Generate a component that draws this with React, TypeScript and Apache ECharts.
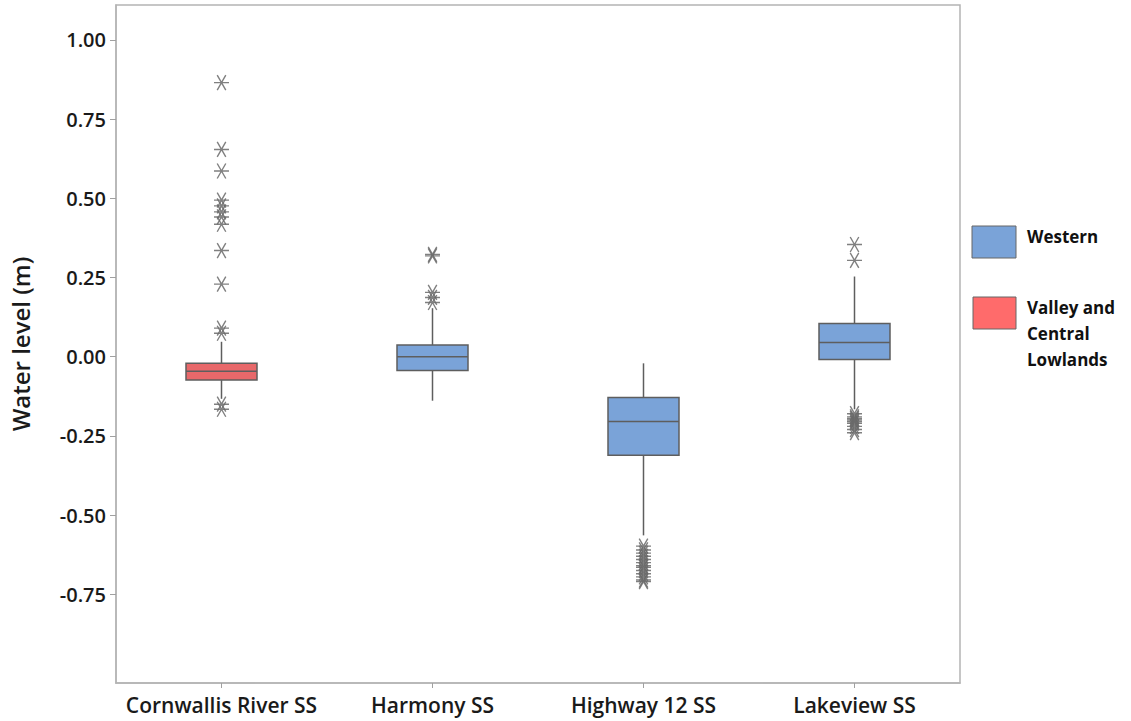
import React, { useEffect, useRef } from "react";
import * as echarts from "echarts";

const categories = ["Cornwallis River SS", "Harmony SS", "Highway 12 SS", "Lakeview SS"];
// [lower whisker, Q1, median, Q3, upper whisker]
const boxValues = [
  [-0.133, -0.074, -0.046, -0.021, 0.047],
  [-0.139, -0.044, 0.0, 0.037, 0.153],
  [-0.564, -0.311, -0.205, -0.129, -0.021],
  [-0.166, -0.009, 0.045, 0.105, 0.253],
];
const boxRegion = ["Valley", "Western", "Western", "Western"];
const outliersCornwallis = [0.865, 0.654, 0.586, 0.494, 0.476, 0.457, 0.441, 0.418, 0.335, 0.229, 0.09, 0.074, -0.15, -0.166];
const outliersHarmony = [0.323, 0.318, 0.203, 0.187, 0.171];
const outliersHighway = [-0.598, -0.61, -0.62, -0.63, -0.64, -0.65, -0.66, -0.665, -0.675, -0.685, -0.695, -0.705, -0.71];
const outliersLakeview = [0.354, 0.304, -0.18, -0.19, -0.195, -0.2, -0.205, -0.21, -0.22, -0.23, -0.24];
const yTickValues = [-0.75, -0.5, -0.25, 0, 0.25, 0.5, 0.75, 1.0];
const legendNames = ["Western", "Valley and\nCentral\nLowlands"];

const FONT = "'Open Sans', 'Noto Sans', sans-serif";
const WESTERN = "#7aa3d8";
const VALLEY_BOX = "#e8686a";
const VALLEY_LEGEND = "#ff6b6b";
const EDGE = "#5e5e5e";
const BOX_W = 71;

export default function App() {
  const ref = useRef<HTMLDivElement>(null);
  useEffect(() => {
    if (!ref.current) return;
    const chart = echarts.init(ref.current, null, { renderer: "svg" });
    const outlierSets = [outliersCornwallis, outliersHarmony, outliersHighway, outliersLakeview];
    const outlierData: number[][] = [];
    outlierSets.forEach((arr, i) => arr.forEach((v) => outlierData.push([i, v])));
    const boxData = boxValues.map((v, i) => [i, ...v]);

    const renderBox = (params: any, api: any) => {
      const idx = api.value(0);
      const low = api.coord([idx, api.value(1)]);
      const q1 = api.coord([idx, api.value(2)]);
      const med = api.coord([idx, api.value(3)]);
      const q3 = api.coord([idx, api.value(4)]);
      const high = api.coord([idx, api.value(5)]);
      const cx = low[0];
      const hw = BOX_W / 2;
      const fill = boxRegion[params.dataIndex] === "Western" ? WESTERN : VALLEY_BOX;
      const lineStyle = { stroke: EDGE, lineWidth: 1.5 };
      return {
        type: "group",
        children: [
          { type: "line", shape: { x1: cx, y1: high[1], x2: cx, y2: q3[1] }, style: lineStyle },
          { type: "line", shape: { x1: cx, y1: q1[1], x2: cx, y2: low[1] }, style: lineStyle },
          {
            type: "rect",
            shape: { x: cx - hw, y: q3[1], width: BOX_W, height: q1[1] - q3[1] },
            style: { fill, stroke: EDGE, lineWidth: 1.5 },
          },
          { type: "line", shape: { x1: cx - hw, y1: med[1], x2: cx + hw, y2: med[1] }, style: lineStyle },
        ],
      };
    };

    chart.setOption({
      animation: false,
      backgroundColor: "#ffffff",
      grid: {
        left: 112,
        right: 171,
        top: 5,
        bottom: 38,
        show: true,
        borderColor: "#b4b4b4",
        borderWidth: 1.5,
        backgroundColor: "transparent",
      },
      xAxis: {
        type: "category",
        data: categories,
        axisLine: { show: true, onZero: false, lineStyle: { color: "#b4b4b4", width: 1.5 } },
        axisTick: { show: true, alignWithLabel: true, interval: 0, length: 5, lineStyle: { color: "#a0a0a0" } },
        axisLabel: { interval: 0, color: "#1a1a1a", fontFamily: FONT, fontSize: 21, fontWeight: 600, margin: 11 },
        splitLine: { show: false },
      },
      yAxis: {
        type: "value",
        min: -1.03,
        max: 1.11,
        axisLine: { show: true, lineStyle: { color: "#b4b4b4", width: 1.5 } },
        axisTick: { show: true, length: 6, customValues: yTickValues, lineStyle: { color: "#a0a0a0" } },
        axisLabel: {
          customValues: yTickValues,
          formatter: (v: number) => v.toFixed(2),
          color: "#1a1a1a",
          fontFamily: FONT,
          fontSize: 20,
          fontWeight: 600,
          margin: 10,
        },
        splitLine: { show: false },
        name: "Water level (m)",
        nameLocation: "middle",
        nameGap: 84,
        nameRotate: 90,
        nameTextStyle: { color: "#1a1a1a", fontFamily: FONT, fontSize: 24, fontWeight: 600 },
      },
      series: [
        {
          type: "custom",
          renderItem: renderBox,
          data: boxData,
          encode: { x: 0, y: [1, 2, 3, 4, 5] },
          z: 2,
        },
        {
          type: "scatter",
          data: outlierData,
          symbol: "path://M0,7L14,7M3,0L11,14M11,0L3,14",
          symbolSize: [15, 15],
          itemStyle: { color: "transparent", borderColor: "#6a6a6a", borderWidth: 1.4, opacity: 0.85 },
          z: 3,
        },
      ],
      graphic: [
        { type: "rect", shape: { x: 972, y: 226, width: 44, height: 32 }, style: { fill: WESTERN, stroke: "#666", lineWidth: 1 } },
        { type: "rect", shape: { x: 973, y: 297, width: 43, height: 32 }, style: { fill: VALLEY_LEGEND, stroke: "#666", lineWidth: 1 } },
        {
          type: "text",
          x: 1027,
          y: 236,
          style: { text: legendNames[0], fill: "#111", font: `bold 17px ${FONT}`, verticalAlign: "middle" },
        },
        {
          type: "text",
          x: 1027,
          y: 294,
          style: { text: legendNames[1], fill: "#111", font: `bold 17px ${FONT}`, lineHeight: 26, verticalAlign: "top" },
        },
      ],
    });
    return () => chart.dispose();
  }, []);
  return <div ref={ref} style={{ width: 1131, height: 721, position: "absolute", left: 0, top: 0 }} />;
}
